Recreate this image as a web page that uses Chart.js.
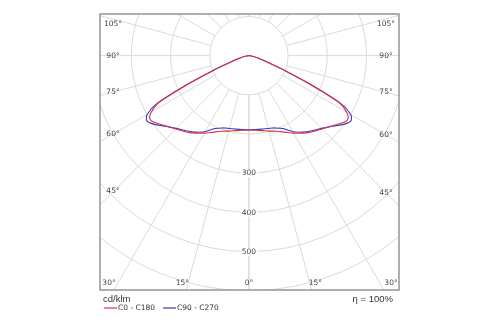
<!DOCTYPE html>
<html><head><meta charset="utf-8">
<script src="https://cdn.jsdelivr.net/npm/chart.js@4.4.1/dist/chart.umd.min.js"></script>
<style>html,body{margin:0;padding:0;background:#fff;}canvas{display:block;}</style>
</head><body>
<canvas id="c" width="500" height="325"></canvas>
<script>
// Polar intensity data (cd/klm) by vertical angle gamma (deg from nadir)
const gammaAngles = [0, 5, 10, 15, 20, 25, 30, 35, 40, 45, 50, 55, 57.5, 60, 62.5, 65, 67.5, 70, 75, 80, 85, 90];
const c0   = [190, 191, 194, 199, 205, 215, 228, 241, 253, 264, 278, 296, 300, 288, 260, 170, 100, 55, 22, 8, 3, 0];
const c180 = [190, 191, 194, 199, 205, 215, 228, 241, 253, 264, 278, 296, 300, 288, 260, 170, 100, 55, 22, 8, 3, 0];
const c90  = [189, 189, 190, 192, 196, 205, 224, 238, 250, 262, 280, 302, 309, 300, 265, 175, 100, 55, 22, 8, 3, 0];
const c270 = [189, 189, 190, 192, 196, 205, 224, 238, 250, 262, 280, 302, 309, 300, 265, 175, 100, 55, 22, 8, 3, 0];
const seriesNames = ['C0 - C180', 'C90 - C270'];
const seriesColors = ['#e0333f', '#3a3ac8'];

// Grid
const ringValues = [100, 200, 300, 400, 500, 600];
const ringLabelValues = [300, 400, 500];
const spokeAngles = [0, 15, 30, 45, 60, 75, 90, 105, 120, 135, 150, 165, 180];
const sideLabelAngles = [105, 90, 75, 60, 45];
const bottomLabelAngles = [30, 15, 0];
const unitText = 'cd/klm';
const effText = '\u03b7 = 100%';

function toXY(r, g, side) {
  const rad = g * Math.PI / 180;
  return { x: side * r * Math.sin(rad), y: -r * Math.cos(rad) };
}
function curve(leftVals, rightVals) {
  const pts = [];
  for (let i = gammaAngles.length - 1; i >= 0; i--) pts.push(toXY(leftVals[i], gammaAngles[i], -1));
  for (let i = 1; i < gammaAngles.length; i++) pts.push(toXY(rightVals[i], gammaAngles[i], 1));
  return pts;
}

const polarGrid = {
  id: 'polarGrid',
  beforeDatasetsDraw(chart) {
    const { ctx, chartArea: a, scales: { x, y } } = chart;
    const cx = x.getPixelForValue(0), cy = y.getPixelForValue(0);
    ctx.save();
    ctx.beginPath(); ctx.rect(a.left, a.top, a.right - a.left, a.bottom - a.top); ctx.clip();
    ctx.strokeStyle = '#dadada'; ctx.lineWidth = 1;
    ringValues.forEach(v => {
      ctx.beginPath(); ctx.arc(cx, cy, x.getPixelForValue(v) - cx, 0, 2 * Math.PI); ctx.stroke();
    });
    spokeAngles.forEach(g => {
      [-1, 1].forEach(s => {
        const p1 = toXY(ringValues[0], g, s), p2 = toXY(3000, g, s);
        ctx.beginPath();
        ctx.moveTo(x.getPixelForValue(p1.x), y.getPixelForValue(p1.y));
        ctx.lineTo(x.getPixelForValue(p2.x), y.getPixelForValue(p2.y));
        ctx.stroke();
      });
    });
    // ring value labels
    ctx.font = '7.5px "DejaVu Sans"';
    ctx.textAlign = 'center'; ctx.textBaseline = 'middle';
    ringLabelValues.forEach(v => {
      const py = y.getPixelForValue(-v);
      const w = ctx.measureText(String(v)).width;
      ctx.fillStyle = '#fff'; ctx.fillRect(cx - w / 2 - 1, py - 4, w + 2, 8);
      ctx.fillStyle = '#444'; ctx.fillText(String(v), cx, py);
    });
    // angle labels
    const insetX = 13, insetY = 7;
    sideLabelAngles.forEach(g => {
      [-1, 1].forEach(s => {
        const lx = s < 0 ? a.left + insetX : a.right - insetX;
        const rad = g * Math.PI / 180;
        let ly = cy + Math.abs(lx - cx) / Math.tan(rad);
        if (g === 90) ly = cy;
        ly = Math.max(a.top + 10, ly);
        ctx.fillStyle = '#444';
        ctx.fillText(g + '\u00b0', lx, ly);
      });
    });
    bottomLabelAngles.forEach(g => {
      [-1, 1].forEach(s => {
        if (g === 0 && s > 0) return;
        const ly = a.bottom - insetY;
        const rad = g * Math.PI / 180;
        let lx = cx + s * (a.bottom + 14 - cy) * Math.tan(rad);
        lx = Math.min(Math.max(lx, a.left + 9), a.right - 8);
        ctx.fillStyle = '#444';
        ctx.fillText(g + '\u00b0', lx, ly);
      });
    });
    ctx.restore();
  },
  afterDatasetsDraw(chart) {
    const { ctx, chartArea: a } = chart;
    ctx.save();
    ctx.strokeStyle = '#9c9c9c'; ctx.lineWidth = 1.6;
    ctx.strokeRect(a.left, a.top, a.right - a.left, a.bottom - a.top);
    ctx.fillStyle = '#333';
    ctx.textBaseline = 'middle';
    ctx.font = '9.5px "Liberation Sans"';
    ctx.textAlign = 'left';
    ctx.fillText(unitText, a.left + 3, a.bottom + 9);
    ctx.textAlign = 'right';
    ctx.fillText(effText, a.right - 6, a.bottom + 9);
    ctx.font = '7.5px "DejaVu Sans"';
    ctx.textAlign = 'left';
    let lx = a.left + 4;
    seriesNames.forEach((n, i) => {
      ctx.strokeStyle = seriesColors[i]; ctx.lineWidth = 1.2;
      ctx.beginPath(); ctx.moveTo(lx, a.bottom + 18); ctx.lineTo(lx + 13, a.bottom + 18); ctx.stroke();
      ctx.fillStyle = '#333';
      ctx.fillText(n, lx + 14, a.bottom + 18);
      lx += 14 + ctx.measureText(n).width + 8;
    });
    ctx.restore();
  }
};

new Chart(document.getElementById('c'), {
  type: 'scatter',
  data: {
    datasets: [
      { label: seriesNames[0], data: curve(c180, c0), showLine: true, borderColor: seriesColors[0], borderWidth: 1.1, pointRadius: 0, tension: 0.3, fill: false },
      { label: seriesNames[1], data: curve(c270, c90), showLine: true, borderColor: seriesColors[1], borderWidth: 1.1, pointRadius: 0, tension: 0.3, fill: false }
    ]
  },
  options: {
    responsive: false,
    animation: false,
    layout: { padding: { left: 100, right: 101, top: 14, bottom: 35 } },
    scales: {
      x: { type: 'linear', display: false, min: -380, max: 383 },
      y: { type: 'linear', display: false, min: -597, max: 106 }
    },
    plugins: { legend: { display: false }, tooltip: { enabled: false } }
  },
  plugins: [polarGrid]
});
</script>
</body></html>
